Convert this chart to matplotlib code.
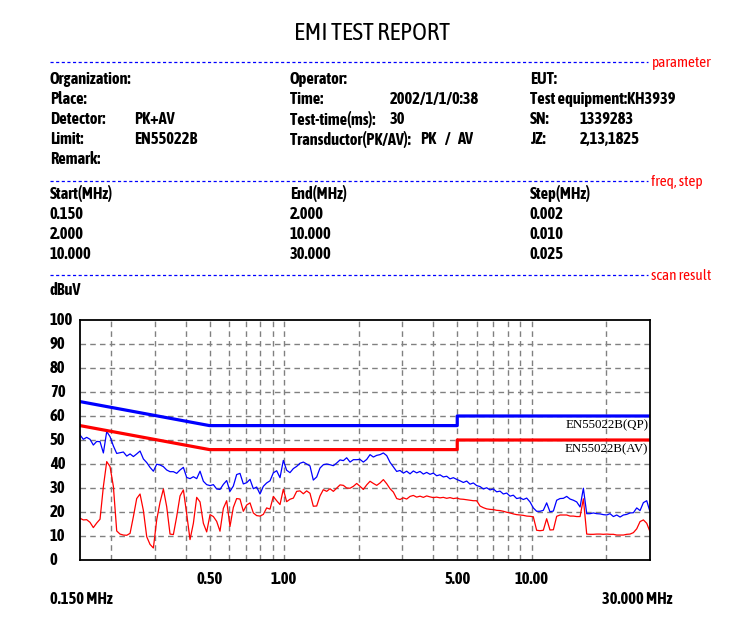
import matplotlib
matplotlib.use("Agg")
import matplotlib.pyplot as plt
import matplotlib.patheffects as pe
from matplotlib import font_manager as fm
from matplotlib.lines import Line2D

# 좁은(Narrow/Condensed) 글꼴 찾기 — bold 가 있는 쪽 우선
narrow = {}
for f in fm.fontManager.ttflist:
    if "Narrow" in f.name or "Condensed" in f.name:
        narrow.setdefault(f.name, set()).add(f.weight)
NARROW, HAS_BOLD = "Liberation Sans", True
if narrow:
    with_bold = [n for n, w in narrow.items() if 700 in w or "bold" in w]
    NARROW = with_bold[0] if with_bold else sorted(narrow)[0]
    HAS_BOLD = bool(with_bold)
print("body font:", NARROW, "bold:", HAS_BOLD)
plt.rcParams["font.family"] = [NARROW, "DejaVu Sans"]

# ── data ──────────────────────────────────────────────────────────
freq_mhz = [0.1500, 0.1547, 0.1596, 0.1646, 0.1698, 0.1752, 0.1807, 0.1864, 0.1923, 0.1983,
            0.2046, 0.2110, 0.2176, 0.2245, 0.2316, 0.2389, 0.2464, 0.2541, 0.2621, 0.2704,
            0.2789, 0.2876, 0.2967, 0.3060, 0.3156, 0.3256, 0.3358, 0.3464, 0.3573, 0.3685,
            0.3801, 0.3921, 0.4044, 0.4171, 0.4303, 0.4438, 0.4578, 0.4722, 0.4870, 0.5024,
            0.5182, 0.5343, 0.5511, 0.5685, 0.5864, 0.6048, 0.6238, 0.6435, 0.6637, 0.6846,
            0.7061, 0.7284, 0.7513, 0.7749, 0.7993, 0.8245, 0.8504, 0.8772, 0.9048, 0.9333,
            0.9627, 0.993, 1.024, 1.056, 1.090, 1.124, 1.159, 1.196, 1.233, 1.272,
            1.312, 1.354, 1.396, 1.440, 1.486, 1.532, 1.581, 1.630, 1.682, 1.735,
            1.789, 1.846, 1.904, 1.964, 2.025, 2.089, 2.155, 2.223, 2.293, 2.365,
            2.439, 2.516, 2.595, 2.677, 2.761, 2.848, 2.937, 3.030, 3.125, 3.224,
            3.325, 3.430, 3.538, 3.649, 3.764, 3.882, 4.004, 4.130, 4.260, 4.394,
            4.533, 4.675, 4.822, 4.974, 5.131, 5.292, 5.459, 5.630, 5.808, 5.990,
            6.179, 6.374, 6.574, 6.781, 6.994, 7.214, 7.441, 7.675, 7.917, 8.166,
            8.423, 8.688, 8.962, 9.244, 9.535, 9.835, 10.14, 10.46, 10.79, 11.13,
            11.48, 11.84, 12.22, 12.60, 13.00, 13.41, 13.83, 14.27, 14.72, 15.18,
            15.66, 16.15, 16.66, 17.18, 17.72, 18.28, 18.86, 19.45, 20.06, 20.69,
            21.35, 22.02, 22.71, 23.43, 24.16, 24.92, 25.71, 26.52, 27.35, 28.21,
            29.10, 30.00]

# PK trace (blue)
pk_dbuv = [52.1, 50.3, 51.1, 50.3, 47.9, 49.4, 49.3, 44.6, 53.5, 51.4,
           47.5, 44.4, 44.7, 45.0, 43.3, 44.2, 43.1, 44.2, 45.4, 42.1,
           40.6, 38.6, 37.0, 39.9, 39.6, 38.9, 37.5, 36.8, 36.8, 36.1,
           37.5, 38.6, 34.4, 33.9, 34.7, 33.9, 37.0, 32.8, 31.4, 31.0,
           31.4, 29.6, 29.4, 31.5, 33.1, 28.6, 30.8, 35.6, 36.1, 31.7,
           32.2, 33.6, 29.7, 30.4, 27.5, 30.7, 32.1, 33.0, 36.3, 37.2,
           34.3, 41.5, 37.4, 36.4, 38.1, 39.0, 40.3, 40.8, 40.0, 39.2,
           33.3, 34.6, 38.3, 39.7, 40.0, 39.7, 39.3, 40.4, 41.7, 41.4,
           42.6, 40.8, 41.8, 41.8, 41.9, 40.8, 41.9, 43.9, 42.9, 43.6,
           43.9, 44.6, 43.5, 40.7, 38.8, 36.9, 37.3, 36.2, 37.0, 35.9,
           37.1, 36.3, 36.9, 35.8, 36.5, 35.7, 36.2, 35.1, 35.5, 34.6,
           34.9, 33.8, 34.3, 33.6, 33.0, 32.3, 32.9, 31.6, 32.1, 31.0,
           30.6, 29.6, 30.1, 29.2, 29.6, 28.4, 28.7, 27.5, 27.9, 26.6,
           27.0, 25.6, 25.9, 25.2, 25.8, 24.2, 21.7, 20.3, 20.3, 20.7,
           23.8, 20.1, 20.4, 24.9, 25.6, 25.7, 26.5, 25.4, 24.9, 24.2,
           22.1, 29.9, 19.3, 19.3, 19.6, 19.3, 19.2, 18.9, 18.75, 19.3,
           18.1, 18.75, 17.9, 18.75, 19.0, 19.6, 19.7, 21.7, 20.6, 23.9,
           24.7, 20.1]

# AV trace (red)
av_dbuv = [17.4, 16.7, 16.8, 15.7, 13.5, 15.4, 17.0, 30.6, 41.0, 38.9,
           30.6, 12.1, 10.8, 10.4, 10.3, 11.1, 18.1, 25.6, 27.5, 20.6,
           9.7, 6.5, 5.0, 16.7, 24.0, 29.6, 22.2, 10.8, 10.6, 18.1,
           26.7, 29.2, 19.2, 8.5, 15.3, 26.1, 24.2, 15.3, 11.7, 18.9,
           18.1, 16.1, 12.0, 21.5, 24.7, 14.0, 21.9, 25.6, 25.4, 20.3,
           22.9, 23.8, 19.6, 18.5, 18.3, 19.0, 21.7, 21.2, 26.5, 24.7,
           23.1, 29.5, 24.3, 25.3, 25.8, 28.6, 28.8, 27.6, 28.8, 27.8,
           22.4, 22.5, 26.7, 29.3, 28.6, 29.7, 28.6, 29.9, 31.3, 31.1,
           30.0, 29.9, 30.7, 31.9, 30.7, 29.4, 31.3, 32.8, 31.9, 31.1,
           32.1, 33.5, 31.8, 29.7, 28.3, 25.6, 25.2, 25.9, 25.4, 26.5,
           26.9, 26.2, 26.6, 26.1, 26.7, 26.3, 26.0, 26.2, 25.9, 26.1,
           25.7, 26.0, 25.6, 25.8, 25.4, 25.3, 25.1, 24.9, 24.7, 24.7,
           22.5, 21.8, 21.3, 21.1, 21.0, 20.7, 20.6, 20.3, 19.9, 19.6,
           19.2, 18.9, 18.75, 18.6, 18.3, 18.2, 18.0, 12.4, 12.2, 12.4,
           17.2, 12.5, 12.6, 18.2, 18.75, 18.75, 18.75, 18.3, 18.3, 18.1,
           18.1, 25.5, 10.8, 10.7, 10.7, 10.8, 10.8, 10.7, 10.8, 10.7,
           10.7, 10.4, 10.4, 10.4, 10.7, 10.8, 11.4, 13.0, 16.0, 16.7,
           15.3, 11.8]

# EN55022B limits
limit_freq = [0.15, 0.5, 5.0, 5.0, 30.0]
limit_qp = [66, 56, 56, 60, 60]
limit_av = [56, 46, 46, 50, 50]

y_ticks = [0, 10, 20, 30, 40, 50, 60, 70, 80, 90, 100]
x_marks = [0.5, 1.0, 5.0, 10.0]
x_mark_labels = ["0.50", "1.00", "5.00", "10.00"]
grid_freqs = [0.2, 0.3, 0.4, 0.5, 0.6, 0.7, 0.8, 0.9, 1, 2, 3, 4, 5, 6, 7, 8, 9, 10, 20]

param_rows = [
    [("Organization:", 50), ("Operator:", 290), ("EUT:", 530)],
    [("Place:", 50), ("Time:", 290), ("2002/1/1/0:38", 390), ("Test equipment:KH3939", 530)],
    [("Detector:", 50), ("PK+AV", 134), ("Test-time(ms):", 290), ("30", 390),
     ("SN:", 530), ("1339283", 580)],
    [("Limit:", 50), ("EN55022B", 134), ("Transductor(PK/AV):", 290), ("PK", 420),
     ("/", 445), ("AV", 457), ("JZ:", 530), ("2,13,1825", 580)],
    [("Remark:", 50)],
]
step_header = ["Start(MHz)", "End(MHz)", "Step(MHz)"]
step_rows = [["0.150", "2.000", "0.002"],
             ["2.000", "10.000", "0.010"],
             ["10.000", "30.000", "0.025"]]

W, H = 750, 641
fig = plt.figure(figsize=(W / 100, H / 100), dpi=100)
fig.patch.set_facecolor("white")
BODY = 11.8 if NARROW != "Liberation Sans" else 9.0


def ftext(x, y, s, bold=True, **kw):
    # 픽셀 좌표(왼쪽 위 원점)로 텍스트 배치
    kw.setdefault("fontsize", BODY)
    kw.setdefault("va", "center")
    kw.setdefault("color", "black")
    if bold and HAS_BOLD:
        kw["fontweight"] = "bold"
    elif bold:
        kw["path_effects"] = [pe.withStroke(linewidth=0.7, foreground=kw["color"])]
    return fig.text(x / W, 1 - y / H, s, **kw)


def section(y, label):
    fig.add_artist(Line2D([50 / W, 648 / W], [1 - y / H, 1 - y / H], color="#0000ff",
                          lw=0.9, linestyle=(0, (2.5, 2))))
    ftext(651, y + 1, label, bold=False, color="#ff0000", fontsize=11)


ftext(372, 33, "EMI TEST REPORT", bold=False, ha="center", fontsize=18)

section(62, "parameter")
for r, row in enumerate(param_rows):
    for s, x in row:
        ftext(x, 79 + 20 * r, s)

section(181, "freq, step")
cols = [50, 290, 530]
for s, x in zip(step_header, cols):
    ftext(x, 194, s)
for r, row in enumerate(step_rows):
    for s, x in zip(row, cols):
        ftext(x, 214 + 20 * r, s)

section(275, "scan result")
ftext(50, 290, "dBuV")

# ── scan plot ─────────────────────────────────────────────────────
ax = fig.add_axes([80 / W, (H - 560) / H, 570 / W, 240 / H])
ax.set_xscale("log")
ax.set_xlim(0.15, 30)
ax.set_ylim(0, 100)
for v in y_ticks[1:-1]:
    ax.axhline(v, color="#808080", lw=1, linestyle=(0, (4, 3)), zorder=0)
for f in grid_freqs:
    ax.axvline(f, color="#808080", lw=1, linestyle=(0, (4, 3)), zorder=0)

ax.plot(freq_mhz, av_dbuv, color="#ff0000", lw=0.9)
ax.plot(freq_mhz, pk_dbuv, color="#0000ff", lw=0.9)
ax.plot(limit_freq, limit_qp, color="#0000ff", lw=2.3)
ax.plot(limit_freq, limit_av, color="#ff0000", lw=2.3)

for lim, tag in ((limit_qp, "QP"), (limit_av, "AV")):
    ax.text(0.997, lim[-1] - 1.2, f"EN55022B({tag})", transform=ax.get_yaxis_transform(),
            ha="right", va="top", fontsize=9.3, family=["Liberation Serif", "DejaVu Serif"])

ax.set_xticks([])
ax.set_yticks([])
ax.minorticks_off()
for sp in ax.spines.values():
    sp.set_linewidth(1.3)

for v in y_ticks:
    ftext(50, 560 - 2.4 * v, str(v), fontsize=12)
for f, s in zip(x_marks, x_mark_labels):
    ax.text(f, -0.079, s, transform=ax.get_xaxis_transform(), ha="center", va="center",
            fontsize=12, fontweight="bold" if HAS_BOLD else "normal")
ftext(50, 599, "0.150 MHz")
ftext(672, 599, "30.000 MHz", ha="right")

fig.savefig("out.png", dpi=100)
